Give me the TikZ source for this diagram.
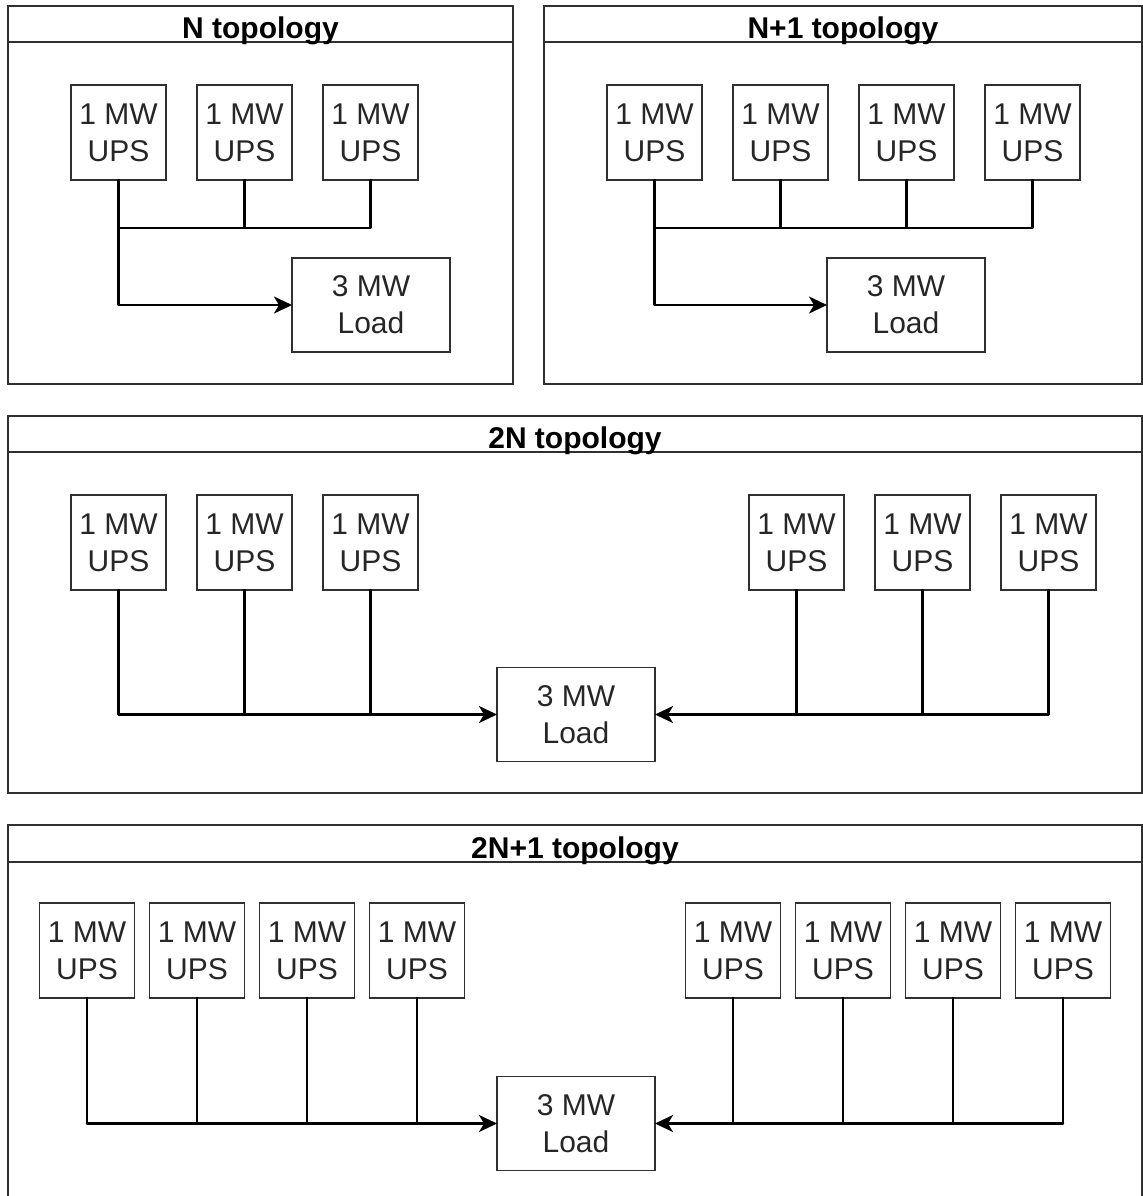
\documentclass[tikz,border=0pt]{standalone}
\usepackage{fontspec}
\setmainfont{Liberation Sans}
\usetikzlibrary{arrows.meta}
\definecolor{txt}{HTML}{262626}
\definecolor{brd}{HTML}{303030}
\tikzset{
  panel/.style={draw=brd, line width=0.7pt},
  ups/.style={draw=brd, line width=0.65pt, rectangle, inner sep=0pt, outer sep=0pt,
    minimum width=47.5pt, minimum height=47.5pt, align=center, text=txt,
    font=\fontsize{15pt}{18.5pt}\selectfont},
  loadbox/.style={ups, minimum width=79pt, minimum height=47pt},
  ptitle/.style={anchor=base, inner sep=0pt, font=\fontsize{15pt}{18pt}\selectfont\bfseries, text=black},
  wire/.style={line width=1.2pt, black, line cap=round, line join=round},
  feed/.style={wire, -{Stealth[length=9pt, width=8.5pt, inset=2.5pt]}}
}
\begin{document}
\begin{tikzpicture}[x=0.5pt, y=-0.5pt]
\useasboundingbox (0,0) rectangle (1143,1196);
\clip (0,0) rectangle (1143,1196);

% ---------- N topology ----------
\draw[panel] (8,6) rectangle (513,384);
\draw[panel] (8,42) -- (513,42);
\node[ptitle] (tN) at (260.5,38) {N topology};
\node[ups] (a1) at (118.5,132.5) {1 MW\\UPS};
\node[ups] (a2) at (244.5,132.5) {1 MW\\UPS};
\node[ups] (a3) at (370.5,132.5) {1 MW\\UPS};
\node[loadbox] (aL) at (371,305) {3 MW\\Load};
\coordinate (aj) at (118.5,228);
\draw[wire] (a1.south) -- (aj);
\draw[wire] (a2.south) |- (aj);
\draw[wire] (a3.south) |- (aj);
\draw[feed] (aj) |- (aL.west);

% ---------- N+1 topology ----------
\draw[panel] (544,6) rectangle (1142,384);
\draw[panel] (544,42) -- (1142,42);
\node[ptitle] (tN1) at (843,38) {N+1 topology};
\node[ups] (b1) at (654.5,132.5) {1 MW\\UPS};
\node[ups] (b2) at (780.5,132.5) {1 MW\\UPS};
\node[ups] (b3) at (906.5,132.5) {1 MW\\UPS};
\node[ups] (b4) at (1032.5,132.5) {1 MW\\UPS};
\node[loadbox] (bL) at (906,305) {3 MW\\Load};
\coordinate (bj) at (654.5,228);
\draw[wire] (b1.south) -- (bj);
\draw[wire] (b2.south) |- (bj);
\draw[wire] (b3.south) |- (bj);
\draw[wire] (b4.south) |- (bj);
\draw[feed] (bj) |- (bL.west);

% ---------- 2N topology ----------
\draw[panel] (8,416) rectangle (1142,793);
\draw[panel] (8,452) -- (1142,452);
\node[ptitle] (t2N) at (575,448) {2N topology};
\node[ups] (c1) at (118.5,542.5) {1 MW\\UPS};
\node[ups] (c2) at (244.5,542.5) {1 MW\\UPS};
\node[ups] (c3) at (370.5,542.5) {1 MW\\UPS};
\node[ups] (c4) at (796.5,542.5) {1 MW\\UPS};
\node[ups] (c5) at (922.5,542.5) {1 MW\\UPS};
\node[ups] (c6) at (1048.5,542.5) {1 MW\\UPS};
\node[loadbox] (cL) at (576,714.5) {3 MW\\Load};
\coordinate (cjl) at (118.5,714.5);
\coordinate (cjr) at (1048.5,714.5);
\draw[wire] (c1.south) -- (cjl);
\draw[wire] (c2.south) -- (c2.south |- cjl);
\draw[wire] (c3.south) -- (c3.south |- cjl);
\draw[feed] (cjl) -- (cL.west);
\draw[wire] (c6.south) -- (cjr);
\draw[wire] (c5.south) -- (c5.south |- cjr);
\draw[wire] (c4.south) -- (c4.south |- cjr);
\draw[feed] (cjr) -- (cL.east);

% ---------- 2N+1 topology ----------
\draw[panel] (8,1215) -- (8,825) -- (1142,825) -- (1142,1215);
\draw[panel] (8,862) -- (1142,862);
\node[ptitle] (t2N1) at (575,858) {2N+1 topology};
\node[ups] (d1) at (87,950.5) {1 MW\\UPS};
\node[ups] (d2) at (197,950.5) {1 MW\\UPS};
\node[ups] (d3) at (307,950.5) {1 MW\\UPS};
\node[ups] (d4) at (417,950.5) {1 MW\\UPS};
\node[ups] (d5) at (733,950.5) {1 MW\\UPS};
\node[ups] (d6) at (843,950.5) {1 MW\\UPS};
\node[ups] (d7) at (953,950.5) {1 MW\\UPS};
\node[ups] (d8) at (1063,950.5) {1 MW\\UPS};
\node[loadbox] (dL) at (576,1123.5) {3 MW\\Load};
\coordinate (djl) at (87,1123.5);
\coordinate (djr) at (1063,1123.5);
\draw[wire] (d1.south) -- (djl);
\draw[wire] (d2.south) -- (d2.south |- djl);
\draw[wire] (d3.south) -- (d3.south |- djl);
\draw[wire] (d4.south) -- (d4.south |- djl);
\draw[feed] (djl) -- (dL.west);
\draw[wire] (d8.south) -- (djr);
\draw[wire] (d7.south) -- (d7.south |- djr);
\draw[wire] (d6.south) -- (d6.south |- djr);
\draw[wire] (d5.south) -- (d5.south |- djr);
\draw[feed] (djr) -- (dL.east);
\end{tikzpicture}
\end{document}
